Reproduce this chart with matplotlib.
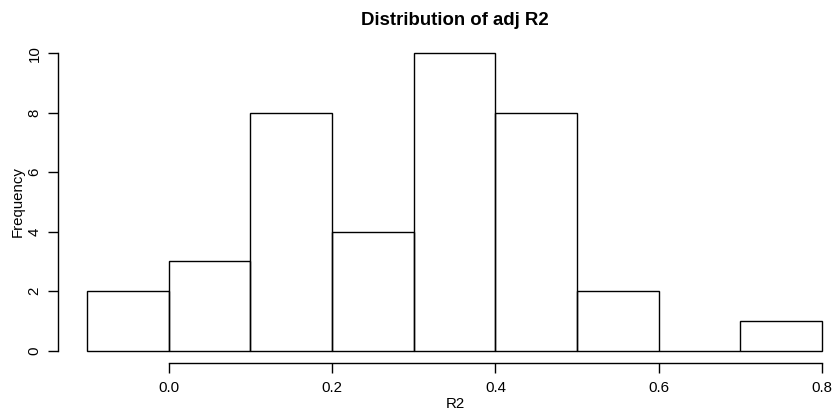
import matplotlib
matplotlib.use("Agg")
import matplotlib.pyplot as plt
import numpy as np

plt.rcParams['font.family'] = ['Liberation Sans', 'DejaVu Sans']

bin_edges = [-0.1, 0.0, 0.1, 0.2, 0.3, 0.4, 0.5, 0.6, 0.7, 0.8]
counts = [2, 3, 8, 4, 10, 8, 2, 0, 1]
x_ticks = [0.0, 0.2, 0.4, 0.6, 0.8]
x_tick_labels = ["0.0", "0.2", "0.4", "0.6", "0.8"]
y_ticks = [0, 2, 4, 6, 8, 10]
title = "Distribution of adj R2"
xlabel = "R2"
ylabel = "Frequency"

W, H = 836, 412
fig = plt.figure(figsize=(W / 100, H / 100), dpi=100)

# plot region in pixels (R style 4% extension)
x0, x1 = 57.6, 851.5
y_top, y_bot = 41.4, 362.6
ax = fig.add_axes([x0 / W, 1 - y_bot / H, (x1 - x0) / W, (y_bot - y_top) / H])
ax.set_xlim(-0.136, 0.836)
ax.set_ylim(-0.4, 10.4)

widths = np.diff(bin_edges)
ax.bar(bin_edges[:-1], counts, width=widths, align='edge', fill=False,
       edgecolor='black', linewidth=1.0)

for s in ['top', 'right']:
    ax.spines[s].set_visible(False)
ax.spines['left'].set_bounds(0, 10)
ax.spines['bottom'].set_bounds(0, 0.8)
for s in ['left', 'bottom']:
    ax.spines[s].set_linewidth(1.0)

ax.set_xticks(x_ticks)
ax.set_xticklabels(x_tick_labels)
ax.set_yticks(y_ticks)
ax.set_yticklabels([str(v) for v in y_ticks], rotation=90, va='center')
ax.tick_params(axis='both', length=7, width=1.0, labelsize=10.8, colors='black')
ax.tick_params(axis='x', pad=6.0)
ax.tick_params(axis='y', pad=4.5)

fig.text(455 / W, 1 - 25.0 / H, title, ha='center', va='baseline',
         fontsize=13.4, fontweight='bold')
fig.text(455 / W, 1 - 408.5 / H, xlabel, ha='center', va='baseline', fontsize=10.8)
fig.text(17.5 / W, 1 - 202 / H, ylabel, ha='center', va='center', fontsize=10.8,
         rotation=90)

fig.savefig("out.png", dpi=100)
